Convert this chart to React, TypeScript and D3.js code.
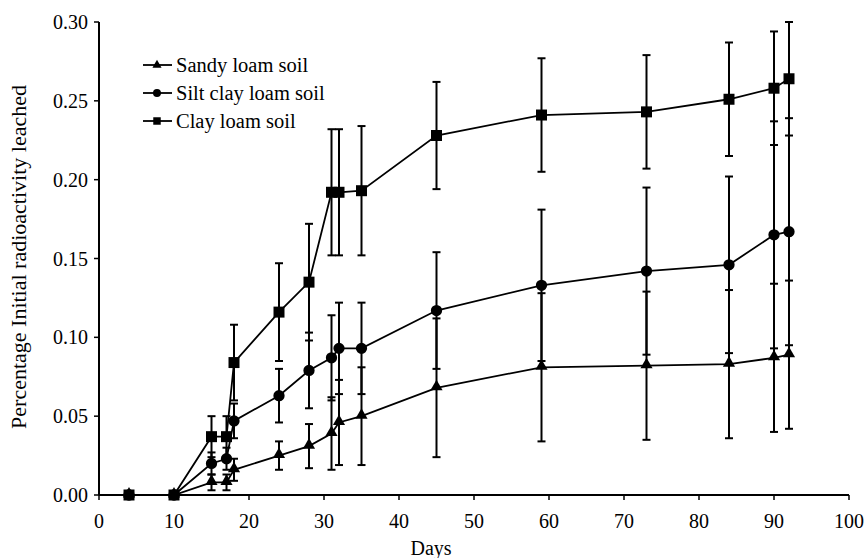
import React from "react";
import * as d3 from "d3";

const days = [4, 10, 15, 17, 18, 24, 28, 31, 32, 35, 45, 59, 73, 84, 90, 92];
const sandy = [0, 0, 0.008, 0.008, 0.016, 0.025, 0.031, 0.039, 0.046, 0.05, 0.068, 0.081, 0.082, 0.083, 0.087, 0.089];
const sandyErr = [0, 0, 0.005, 0.005, 0.007, 0.009, 0.014, 0.023, 0.027, 0.031, 0.044, 0.047, 0.047, 0.047, 0.047, 0.047];
const silt = [0, 0, 0.02, 0.023, 0.047, 0.063, 0.079, 0.087, 0.093, 0.093, 0.117, 0.133, 0.142, 0.146, 0.165, 0.167];
const siltErr = [0, 0, 0.007, 0.007, 0.011, 0.017, 0.024, 0.027, 0.029, 0.029, 0.037, 0.048, 0.053, 0.056, 0.072, 0.072];
const clay = [0, 0, 0.037, 0.037, 0.084, 0.116, 0.135, 0.192, 0.192, 0.193, 0.228, 0.241, 0.243, 0.251, 0.258, 0.264];
const clayErr = [0, 0, 0.013, 0.013, 0.024, 0.031, 0.037, 0.04, 0.04, 0.041, 0.034, 0.036, 0.036, 0.036, 0.036, 0.036];

const xTicks = [0, 10, 20, 30, 40, 50, 60, 70, 80, 90, 100];
const yTicks = [0, 0.05, 0.1, 0.15, 0.2, 0.25, 0.3];
const seriesNames = ["Sandy loam soil", "Silt clay loam soil", "Clay loam soil"];

const FONT = "'Liberation Serif', 'Times New Roman', serif";

export default function App() {
  const x = d3.scaleLinear().domain([0, 100]).range([99, 849]);
  const y = d3.scaleLinear().domain([0, 0.3]).range([495, 22]);
  const line = d3
    .line<[number, number]>()
    .x((d) => x(d[0]))
    .y((d) => y(d[1]));

  const series = [
    { name: seriesNames[0], vals: sandy, err: sandyErr, sym: d3.symbolTriangle, size: 64, lsize: 36 },
    { name: seriesNames[1], vals: silt, err: siltErr, sym: d3.symbolCircle, size: 100, lsize: 50 },
    { name: seriesNames[2], vals: clay, err: clayErr, sym: d3.symbolSquare, size: 121, lsize: 56 },
  ];

  return (
    <svg
      width={866}
      height={558}
      style={{ position: "absolute", left: 0, top: 0, background: "#fff" }}
      fontFamily={FONT}
    >
      <rect width={866} height={558} fill="#fff" />
      {/* axes */}
      <line x1={x(0)} x2={x(100)} y1={y(0)} y2={y(0)} stroke="#000" strokeWidth={2} />
      <line x1={x(0)} x2={x(0)} y1={y(0)} y2={y(0.3)} stroke="#000" strokeWidth={2} />
      {xTicks.map((t) => (
        <g key={"xt" + t}>
          <line x1={x(t)} x2={x(t)} y1={y(0)} y2={y(0) + 5} stroke="#000" strokeWidth={1.5} />
          <text x={x(t)} y={528} textAnchor="middle" fontSize={20}>
            {t}
          </text>
        </g>
      ))}
      {yTicks.map((t) => (
        <g key={"yt" + t}>
          <line x1={x(0) - 5} x2={x(0)} y1={y(t)} y2={y(t)} stroke="#000" strokeWidth={1.5} />
          <text x={88} y={y(t) + 7} textAnchor="end" fontSize={20}>
            {t.toFixed(2)}
          </text>
        </g>
      ))}
      <text x={431} y={555} textAnchor="middle" fontSize={20}>
        Days
      </text>
      <text
        transform={`translate(26,257) rotate(-90)`}
        textAnchor="middle"
        fontSize={22}
      >
        Percentage Initial radioactivity leached
      </text>

      {/* error bars */}
      {series.map((s, si) => (
        <g key={"eb" + si} stroke="#000" strokeWidth={2}>
          {days.map((d, i) =>
            s.err[i] > 0 ? (
              <g key={i}>
                <line x1={x(d)} x2={x(d)} y1={y(s.vals[i] - s.err[i])} y2={y(s.vals[i] + s.err[i])} />
                <line x1={x(d) - 4} x2={x(d) + 4} y1={y(s.vals[i] - s.err[i])} y2={y(s.vals[i] - s.err[i])} />
                <line x1={x(d) - 4} x2={x(d) + 4} y1={y(s.vals[i] + s.err[i])} y2={y(s.vals[i] + s.err[i])} />
              </g>
            ) : null
          )}
        </g>
      ))}

      {/* lines and markers */}
      {series.map((s, si) => (
        <g key={"s" + si}>
          <path
            d={line(days.map((d, i) => [d, s.vals[i]] as [number, number])) || ""}
            fill="none"
            stroke="#000"
            strokeWidth={1.8}
          />
          {days.map((d, i) => (
            <path
              key={i}
              d={d3.symbol().type(s.sym).size(s.size)() || ""}
              transform={`translate(${x(d)},${y(s.vals[i]) + (si === 0 ? -1 : 0)})`}
              fill="#000"
            />
          ))}
        </g>
      ))}

      {/* legend */}
      {series.map((s, si) => {
        const ly = 65 + si * 28;
        return (
          <g key={"lg" + si}>
            <line x1={143} x2={172} y1={ly} y2={ly} stroke="#000" strokeWidth={1.8} />
            <path
              d={d3.symbol().type(s.sym).size(s.lsize)() || ""}
              transform={`translate(157,${ly})`}
              fill="#000"
            />
            <text x={176} y={ly + 7} fontSize={20.5}>
              {s.name}
            </text>
          </g>
        );
      })}
    </svg>
  );
}
